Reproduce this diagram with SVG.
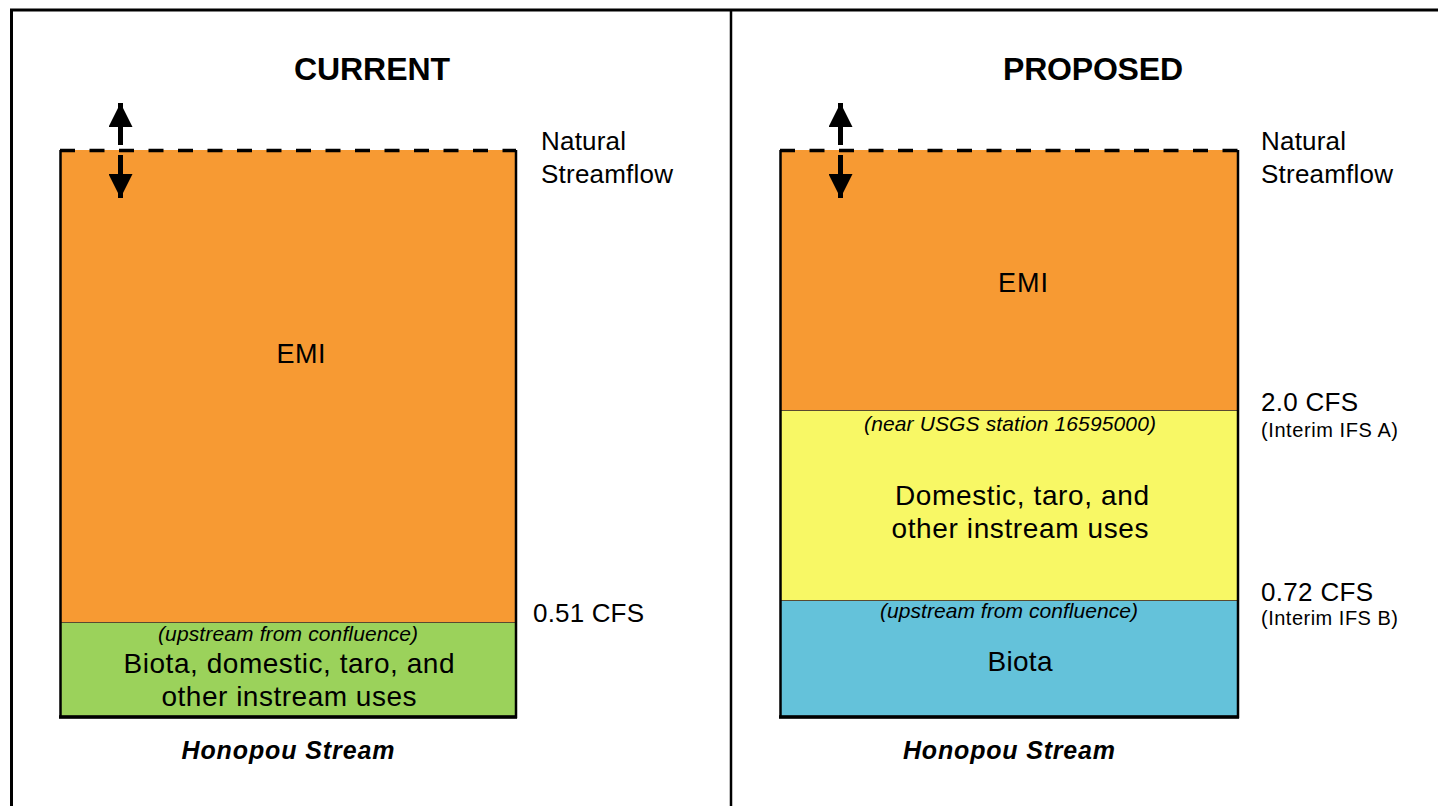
<svg xmlns="http://www.w3.org/2000/svg" width="1438" height="806" viewBox="0 0 1438 806">
<style>
.t{font-family:"Liberation Sans",Arial,sans-serif;fill:#000}
.h{font-size:32px;font-weight:bold;text-anchor:middle}
.lab{font-size:26px}
.emi{font-size:27px;text-anchor:middle}
.mid{text-anchor:middle}
.big{font-size:28px}
.it{font-size:21px;font-style:italic;text-anchor:middle}
.sm{font-size:20px}
.hs{font-size:25px;font-weight:bold;font-style:italic;text-anchor:middle}
.frame{stroke:#000;fill:none}
.box{stroke:#000;stroke-width:2.5;fill:none}
.sep{stroke:#5a4a30;stroke-width:1}
.dash{stroke:#000;stroke-width:3.5;stroke-dasharray:15 14.5;fill:none}
</style>
<defs>
<marker id="ah" viewBox="0 0 24 24" refX="24" refY="12" markerWidth="24" markerHeight="24" markerUnits="userSpaceOnUse" orient="auto">
<path d="M0,0 L24,12 L0,24 Z" fill="#000"/>
</marker>
</defs>
<rect width="1438" height="806" fill="#fff"/>
<g id="frame">
<line class="frame" x1="10" y1="10" x2="1438" y2="10" stroke-width="3"/>
<line class="frame" x1="11.5" y1="9" x2="11.5" y2="806" stroke-width="3"/>
<line class="frame" x1="731" y1="10" x2="731" y2="806" stroke-width="2.5"/>
</g>
<g id="current">
<text class="t h" x="372" y="80" textLength="156">CURRENT</text>
<g id="current-emi">
<rect x="60" y="150" width="456" height="472" fill="#F79A33"/>
<text class="t emi" x="301" y="363" textLength="49">EMI</text>
</g>
<g id="current-biota">
<rect x="60" y="622" width="456" height="95" fill="#9BD25B"/>
<line class="sep" x1="60" y1="622.5" x2="516" y2="622.5"/>
<text class="t it" x="288" y="641" textLength="260">(upstream from confluence)</text>
<text class="t big mid" x="289" y="673" textLength="331">Biota, domestic, taro, and</text>
<text class="t big mid" x="289" y="706" textLength="255">other instream uses</text>
</g>
<path class="box" d="M60.5,150 V717 H516 V150"/>
<line x1="59" y1="717" x2="517" y2="717" stroke="#000" stroke-width="3.5"/>
<line class="dash" x1="60" y1="150.5" x2="516" y2="150.5"/>
<text class="t lab" x="541" y="150" textLength="85">Natural</text>
<text class="t lab" x="541" y="183" textLength="132">Streamflow</text>
<text class="t lab" x="533" y="622" textLength="111">0.51 CFS</text>
<text class="t hs" x="288" y="759" textLength="213">Honopou Stream</text>
</g>
<g id="proposed">
<text class="t h" x="1093" y="80" textLength="180">PROPOSED</text>
<g id="proposed-emi">
<rect x="780" y="150" width="458" height="260" fill="#F79A33"/>
<text class="t emi" x="1023" y="292" textLength="50">EMI</text>
</g>
<g id="proposed-domestic">
<rect x="780" y="410" width="458" height="190" fill="#F8F865"/>
<line class="sep" x1="780" y1="410.5" x2="1238" y2="410.5"/>
<text class="t it" x="1010" y="431" textLength="292">(near USGS station 16595000)</text>
<text class="t big mid" x="1022" y="505" textLength="254">Domestic, taro, and</text>
<text class="t big mid" x="1020" y="538" textLength="257">other instream uses</text>
</g>
<g id="proposed-biota">
<rect x="780" y="600" width="458" height="117" fill="#64C2DA"/>
<line class="sep" x1="780" y1="600.5" x2="1238" y2="600.5"/>
<text class="t it" x="1009" y="618" textLength="258">(upstream from confluence)</text>
<text class="t big mid" x="1020" y="671" textLength="65">Biota</text>
</g>
<path class="box" d="M780.5,150 V717 H1238 V150"/>
<line x1="779" y1="717" x2="1239" y2="717" stroke="#000" stroke-width="3.5"/>
<line class="dash" x1="780" y1="150.5" x2="1238" y2="150.5"/>
<text class="t lab" x="1261" y="150" textLength="85">Natural</text>
<text class="t lab" x="1261" y="183" textLength="132">Streamflow</text>
<text class="t lab" x="1261" y="411" textLength="97">2.0 CFS</text>
<text class="t sm" x="1261" y="437" textLength="137">(Interim IFS A)</text>
<text class="t lab" x="1261" y="601" textLength="112">0.72 CFS</text>
<text class="t sm" x="1261" y="625" textLength="137">(Interim IFS B)</text>
<text class="t hs" x="1009" y="759" textLength="212">Honopou Stream</text>
</g>
<g id="connectors" stroke="#000" stroke-width="5" fill="none">
<line x1="120.5" y1="145" x2="120.5" y2="103" marker-end="url(#ah)"/>
<line x1="120.5" y1="155" x2="120.5" y2="198" marker-end="url(#ah)"/>
<line x1="840.5" y1="145" x2="840.5" y2="103" marker-end="url(#ah)"/>
<line x1="840.5" y1="155" x2="840.5" y2="198" marker-end="url(#ah)"/>
</g>
</svg>
